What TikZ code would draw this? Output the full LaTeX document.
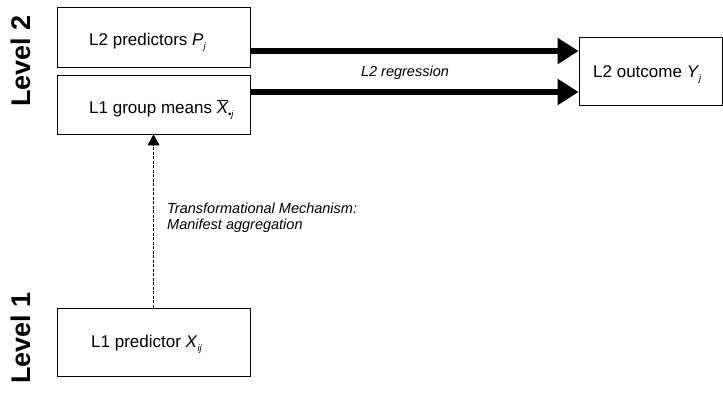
\documentclass[tikz,border=0pt]{standalone}
\usepackage{fontspec}
\setmainfont{Liberation Sans}
\usetikzlibrary{arrows.meta,calc}
\newcommand{\lowsub}[1]{\raisebox{-0.45ex}{\fontsize{9.5}{9.5}\selectfont\itshape #1}}
\begin{document}
\begin{tikzpicture}[x=1pt,y=-1pt,
  box/.style={draw=black,line width=0.8pt,minimum width=193pt,inner sep=0pt},
  btxt/.style={anchor=base west,inner sep=0pt,font=\fontsize{17}{20}\selectfont},
  lvl/.style={rotate=90,font=\fontsize{27}{30}\selectfont\bfseries},
  thickarrow/.style={line width=6pt,-{Triangle[length=21pt,width=25pt]}},
  dasharrow/.style={line width=0.9pt,dash pattern=on 3pt off 1.5pt,-{Triangle[length=11pt,width=12pt]}},
  lab/.style={font=\fontsize{14.5}{16}\selectfont\itshape}]
\useasboundingbox (0,0) rectangle (723,394);
\node[box,minimum height=60pt] (P) at (153.5,37) {};
\node[box,minimum height=59pt] (Xbar) at (153.5,104.5) {};
\node[box,minimum width=143pt,minimum height=68pt] (Y) at (650.5,71) {};
\node[box,minimum height=68pt] (X) at (153.5,342) {};
\node[btxt] (Pt) at (89,45) {L2 predictors \textit{P}\lowsub{j}};
\node[btxt] (Xbart) at (89,113) {L1 group means $\overline{\hbox{\itshape X}}$\lowsub{\textbullet j}};
\node[btxt] (Yt) at (593,77) {L2 outcome \textit{Y}\lowsub{j}};
\node[btxt] (Xt) at (91,347) {L1 predictor \textit{X}\lowsub{ij}};
\node[lvl] (L2) at (21,61) {Level 2};
\node[lvl] (L1) at (21,338) {Level 1};
\draw[thickarrow] ([yshift=-14pt]P.east) -- ([yshift=-14pt]P.east -| Y.west);
\draw[thickarrow] ([yshift=12.5pt]Xbar.east) -- ([yshift=12.5pt]Xbar.east -| Y.west);
\node[lab] (reg) at (405,73) {L2 regression};
\draw[dasharrow] (X.north) -- (Xbar.south);
\node[lab,align=left,anchor=north west,inner sep=0pt] (tm) at (167,203) {Transformational Mechanism:\\Manifest aggregation};
\end{tikzpicture}
\end{document}
